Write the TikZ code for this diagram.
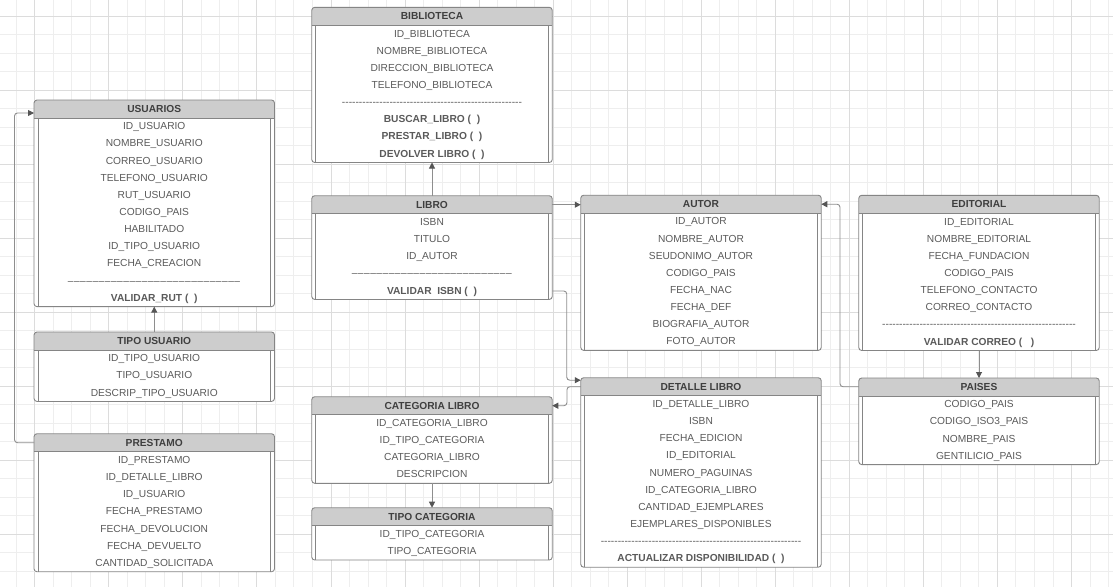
\documentclass[tikz,border=0pt]{standalone}
\usepackage{fontspec}
\setmainfont{Liberation Sans}[Ligatures=TeXOff]
\usetikzlibrary{arrows.meta}
\definecolor{gridminor}{HTML}{EEEEEE}
\definecolor{gridmajor}{HTML}{DCDCDC}
\definecolor{boxline}{HTML}{858585}
\definecolor{hdrfill}{HTML}{CDCDCD}
\definecolor{fieldc}{HTML}{5A5A5A}
\definecolor{titlec}{HTML}{3F3F3F}
\definecolor{connc}{HTML}{8E8E8E}
\definecolor{arrowc}{HTML}{555555}
\tikzset{
 ebox/.style={rectangle, minimum width=240.5pt, inner sep=0pt, outer sep=0pt, draw=none, fill=white},
 bline/.style={draw=boxline, line width=0.9pt},
 htext/.style={font=\fontsize{10.2}{12}\selectfont\bfseries, text=titlec, inner sep=0pt, anchor=base},
 ftext/.style={font=\fontsize{10.2}{12}\selectfont, text=fieldc, inner sep=0pt, anchor=base},
 conn/.style={draw=connc, line width=0.9pt, rounded corners=3pt, -{Triangle[length=6pt,width=6pt,color=arrowc]}},
 gminor/.style={draw=gridminor, line width=0.8pt},
 gmajor/.style={draw=gridmajor, line width=0.8pt},
}
\newcommand\reps[2]{\foreach \i in {1,...,#1}{#2}}
\newcommand\ent[6]{%
 \node[ebox, minimum height={18+17.15*#4}, anchor=north] (#1) at (#2,#3) {};
 \begin{scope}
  \clip[rounded corners=3pt] (#1.north west) rectangle (#1.south east);
  \fill[hdrfill] (#1.north west) rectangle ([yshift=-18pt]#1.north east);
 \end{scope}
 \draw[bline] ([yshift=-18pt]#1.north west) -- ([yshift=-18pt]#1.north east);
 \draw[bline] ([xshift=4pt,yshift=-18pt]#1.north west) -- ([xshift=4pt]#1.south west);
 \draw[bline] ([xshift=-4pt,yshift=-18pt]#1.north east) -- ([xshift=-4pt]#1.south east);
 \draw[bline, rounded corners=3pt] (#1.north west) rectangle (#1.south east);
 \node[htext] (#1-title) at ([yshift=-12.65pt]#1.north) {#5};
 \foreach \r [count=\k from 0] in {#6} {
   \node[ftext] (#1-\k) at ([yshift={-(29.7+17.15*\k)*1pt}]#1.north) {\r};
 }
}
\begin{document}
\begin{tikzpicture}[x=1pt,y=-1pt]
\fill[white] (0,0) rectangle (1113,587);
\useasboundingbox (0,0) rectangle (1113,587);
% grid
\foreach \i in {-1,...,58} \draw[gminor] ({34.7+18.5125*\i},0) -- ({34.7+18.5125*\i},587);
\foreach \j in {0,...,30} \draw[gminor] (0,{16+18.5125*\j}) -- (1113,{16+18.5125*\j});
\foreach \k in {0,...,14} \draw[gmajor] ({34.7+74.05*\k},0) -- ({34.7+74.05*\k},587);
\foreach \k in {0,...,7} \draw[gmajor] (0,{16+74.05*\k}) -- (1113,{16+74.05*\k});
% entities
\ent{usuarios}{154.25}{100}{11}{USUARIOS}{ID\_USUARIO, NOMBRE\_USUARIO, CORREO\_USUARIO, TELEFONO\_USUARIO, RUT\_USUARIO, CODIGO\_PAIS, HABILITADO, ID\_TIPO\_USUARIO, FECHA\_CREACION, \reps{28}{–\kern0.5pt}, \textbf{VALIDAR\_RUT (\ \ )}}
\ent{tipousuario}{154.25}{332}{3}{TIPO USUARIO}{ID\_TIPO\_USUARIO, TIPO\_USUARIO, DESCRIP\_TIPO\_USUARIO}
\ent{prestamo}{154.25}{433.7}{7}{PRESTAMO}{ID\_PRESTAMO, ID\_DETALLE\_LIBRO, ID\_USUARIO, FECHA\_PRESTAMO, FECHA\_DEVOLUCION, FECHA\_DEVUELTO, CANTIDAD\_SOLICITADA}
\ent{biblioteca}{432}{7.3}{8}{BIBLIOTECA}{ID\_BIBLIOTECA, NOMBRE\_BIBLIOTECA, DIRECCION\_BIBLIOTECA, TELEFONO\_BIBLIOTECA, \reps{53}{-}, \textbf{BUSCAR\_LIBRO (\ \ )}, \textbf{PRESTAR\_LIBRO (\ \ )}, \textbf{DEVOLVER LIBRO (\ \ )}}
\ent{libro}{432}{195.7}{5}{LIBRO}{ISBN, TITULO, ID\_AUTOR, \reps{26}{–\kern0.5pt}, \textbf{VALIDAR\ \ ISBN (\ \ )}}
\ent{categoria}{432}{396.7}{4}{CATEGORIA LIBRO}{ID\_CATEGORIA\_LIBRO, ID\_TIPO\_CATEGORIA, CATEGORIA\_LIBRO, DESCRIPCION}
\ent{tipocategoria}{432}{507.7}{2}{TIPO CATEGORIA}{ID\_TIPO\_CATEGORIA, TIPO\_CATEGORIA}
\ent{autor}{701}{195.2}{8}{AUTOR}{ID\_AUTOR, NOMBRE\_AUTOR, SEUDONIMO\_AUTOR, CODIGO\_PAIS, FECHA\_NAC, FECHA\_DEF, BIOGRAFIA\_AUTOR, FOTO\_AUTOR}
\ent{detalle}{701}{377.7}{10}{DETALLE LIBRO}{ID\_DETALLE\_LIBRO, ISBN, FECHA\_EDICION, ID\_EDITORIAL, NUMERO\_PAGUINAS, ID\_CATEGORIA\_LIBRO, CANTIDAD\_EJEMPLARES, EJEMPLARES\_DISPONIBLES, \reps{59}{-}, \textbf{ACTUALIZAR DISPONIBILIDAD (\ \ )}}
\ent{editorial}{979}{195.3}{8}{EDITORIAL}{ID\_EDITORIAL, NOMBRE\_EDITORIAL, FECHA\_FUNDACION, CODIGO\_PAIS, TELEFONO\_CONTACTO, CORREO\_CONTACTO, \reps{57}{-}, \textbf{VALIDAR CORREO (\ \ \ )}}
\ent{paises}{979}{378}{4}{PAISES}{CODIGO\_PAIS, CODIGO\_ISO3\_PAIS, NOMBRE\_PAIS, GENTILICIO\_PAIS}
% connectors
\draw[conn] (tipousuario.north) -- (usuarios.south);
\draw[conn] ([yshift=-9pt]prestamo.north west) -- ++(-19.5,0) |- ([yshift=-13pt]usuarios.north west);
\draw[conn] (libro.north) -- (biblioteca.south);
\draw[conn] ([yshift=-9pt]libro.north east) -- ([yshift=-9pt]libro.north east -| autor.west);
\draw[conn] ([yshift=-95.3pt]libro.north east) -- ++(14.5,0) |- ([yshift=-2.5pt]detalle.north west);
\draw[conn] ([yshift=-9pt]detalle.north west) -- ++(-13.8,0) |- ([yshift=-9pt]categoria.north east);
\draw[conn] (categoria.south) -- (tipocategoria.north);
\draw[conn] (editorial.south) -- (paises.north);
\draw[conn] ([yshift=-8.7pt]paises.north west) -- ++(-18.75,0) |- ([yshift=-9pt]autor.north east);
\end{tikzpicture}
\end{document}
